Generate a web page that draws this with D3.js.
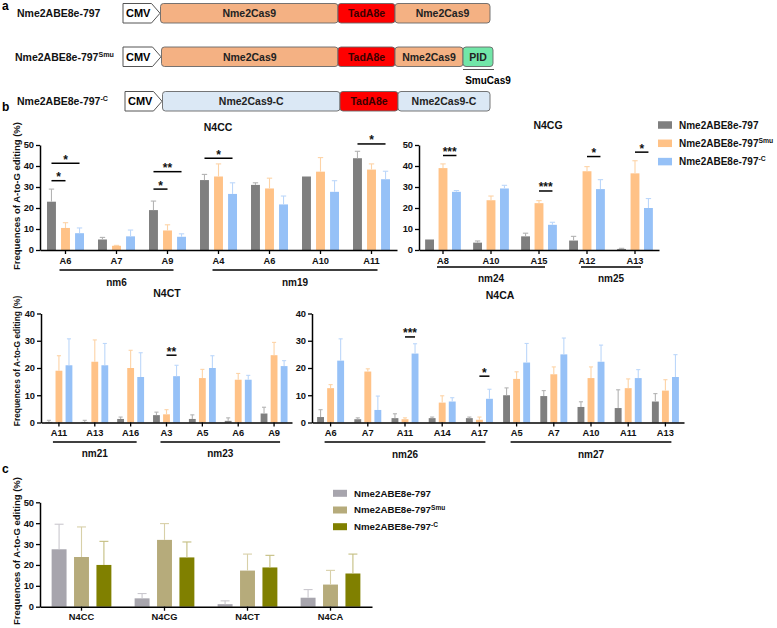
<!DOCTYPE html>
<html><head><meta charset="utf-8">
<script src="https://cdn.jsdelivr.net/npm/d3@7"></script>
<style>
body{margin:0;background:#fff}
svg{display:block}
text{font-family:"Liberation Sans",Arial,Helvetica,sans-serif}
</style>
</head><body><svg id="c" width="777" height="628"></svg>
<script>
// ================= DATA =================
const seriesBase = ["Nme2ABE8e-797", "Nme2ABE8e-797", "Nme2ABE8e-797"];
const seriesSup = ["", "Smu", "-C"];

// panel a: constructs
const constructParts = [
  ["CMV", "Nme2Cas9", "TadA8e", "Nme2Cas9"],
  ["CMV", "Nme2Cas9", "TadA8e", "Nme2Cas9", "PID"],
  ["CMV", "Nme2Cas9-C", "TadA8e", "Nme2Cas9-C"]
];
const constructKinds = [
  ["cmv", "cas", "tad", "cas"],
  ["cmv", "cas", "tad", "cas", "pid"],
  ["cmv", "casC", "tad", "casC"]
];

// panel b: N4CC
const n4ccSites = ["A6", "A7", "A9", "A4", "A6", "A10", "A11"];
const n4cc797 = [23, 5, 19, 33.3, 31, 35, 43.7];
const n4ccSmu = [10.5, 2, 9.3, 35, 29.3, 37.3, 38.3];
const n4ccC = [8, 6.5, 6.3, 26.7, 21.7, 27.7, 33.7];
const n4ccSd797 = [6, 1, 4.3, 2.7, 1, 0, 3.3];
const n4ccSdSmu = [2.5, 0.2, 2.7, 6, 4.9, 6.7, 2.7];
const n4ccSdC = [2.5, 3, 1.4, 5.3, 4, 5.3, 3.8];
const n4ccGroups = [["nm6", 0, 2], ["nm19", 3, 6]];
const n4ccSig = [[0, 0, 1, 33, "*"], [0, 0, 2, 41.3, "*"], [2, 0, 1, 29, "*"], [2, 0, 2, 37.3, "**"], [3, 0, 2, 43.7, "*"], [6, 0, 2, 50.5, "*"]];

// panel b: N4CG
const n4cgSites = ["A8", "A10", "A15", "A12", "A13"];
const n4cg797 = [5, 3.5, 6.5, 4.5, 0.5];
const n4cgSmu = [39, 23.7, 22.3, 37.5, 36.5];
const n4cgC = [27.7, 29.3, 12, 29, 20];
const n4cgSd797 = [0, 0.8, 1.5, 2, 0.3];
const n4cgSdSmu = [2, 2, 1.2, 2.2, 6];
const n4cgSdC = [0.6, 1.5, 1.2, 4.5, 4.5];
const n4cgGroups = [["nm24", 0, 2], ["nm25", 3, 4]];
const n4cgSig = [[0, 1, 2, 45, "***"], [2, 1, 2, 28.1, "***"], [3, 1, 2, 44.5, "*"], [4, 1, 2, 46.6, "*"]];

// panel b: N4CT
const n4ctSites = ["A11", "A13", "A16", "A3", "A5", "A6", "A9"];
const n4ct797 = [0.2, 0.2, 1.3, 2.7, 1.3, 0.6, 3.3];
const n4ctSmu = [19, 22.3, 20, 3, 16.3, 15.7, 24.7];
const n4ctC = [21, 21, 16.7, 17, 20, 15.7, 20.7];
const n4ctSd797 = [0.6, 0.6, 0.7, 1.1, 1.5, 1.1, 2.3];
const n4ctSdSmu = [5.5, 8, 6.5, 1.7, 3.2, 2.3, 4.7];
const n4ctSdC = [9.7, 8, 8.9, 4, 4.5, 1.6, 2];
const n4ctGroups = [["nm21", 0, 2], ["nm23", 3, 6]];
const n4ctSig = [[3, 1, 2, 24.7, "**"]];

// panel b: N4CA
const n4caSites = ["A6", "A7", "A11", "A14", "A17", "A5", "A7", "A10", "A11", "A13"];
const n4ca797 = [2, 1.2, 1.6, 1.6, 1.6, 10, 9.7, 5.7, 5.3, 7.7];
const n4caSmu = [12.6, 18.7, 1.2, 7.3, 1, 16, 17.7, 16.3, 12.6, 11.7];
const n4caC = [22.7, 4.6, 25.3, 7.7, 8.7, 22, 25, 22.3, 16.3, 16.7];
const n4caSd797 = [2.7, 0.5, 1.6, 0.4, 0.4, 2.7, 2, 1.9, 6.7, 2.9];
const n4caSdSmu = [1.3, 1, 0.5, 2.5, 1, 2.6, 2.7, 4.1, 3.4, 4];
const n4caSdC = [8, 5.1, 3.6, 1.4, 3.5, 7, 6, 6.1, 3.1, 8.2];
const n4caGroups = [["nm26", 0, 4], ["nm27", 5, 9]];
const n4caSig = [[2, 1, 2, 31.4, "***"], [4, 1, 2, 17, "*"]];

// panel c: summary
const sumCats = ["N4CC", "N4CG", "N4CT", "N4CA"];
const sum797 = [27.5, 4, 1.2, 4.3];
const sumSmu = [23.8, 32, 17.3, 10.6];
const sumC = [20, 23.6, 18.8, 15.9];
const sumSd797 = [12, 2.3, 1.6, 3.9];
const sumSdSmu = [14.4, 7.8, 7.9, 6.8];
const sumSdC = [11.3, 7.4, 5.8, 9.3];

const yLabel = "Frequences of A-to-G editing (%)";

// ================= DRAW =================
const svg = d3.select("#c");
const FONT = '"Liberation Sans",Arial,sans-serif';

const colB = ["#7f7f7f", "#ffc287", "#96c1f7"];
const errB = ["#b3b3b3", "#fdd3a6", "#bcd7fa"];
const colC = ["#a7a5ad", "#b6ab7b", "#808000"];
const errC = ["#cac8ce", "#d8d0a8", "#c4be80"];

function label(g, x, y, base, sup, size, anchor) {
  const t = g.append("text").attr("x", x).attr("y", y)
    .attr("font-size", size).attr("font-weight", "bold").attr("fill", "#111")
    .attr("text-anchor", anchor || "start");
  t.append("tspan").text(base);
  if (sup) t.append("tspan").attr("dy", -size * 0.38).attr("font-size", size * 0.68).text(sup);
  return t;
}

// ---- panel a ----
svg.append("text").attr("x", 2).attr("y", 10).attr("font-size", 12).attr("font-weight", "bold").text("a");
svg.append("text").attr("x", 2).attr("y", 111).attr("font-size", 12).attr("font-weight", "bold").text("b");
svg.append("text").attr("x", 2).attr("y", 473).attr("font-size", 12).attr("font-weight", "bold").text("c");

const rowLayout = [
  { y: 3.5, h: 19.5, lx: 17, edges: [123, 160.5, 338, 395, 490] },
  { y: 47, h: 19.5, lx: 15, edges: [123, 161.5, 338, 395, 463, 493] },
  { y: 91.5, h: 19.5, lx: 17, edges: [125, 162.5, 340, 398, 490] }
];
const partFill = { cmv: "#ffffff", cas: "#f4b183", tad: "#ff0000", casC: "#dbe8f5", pid: "#72e6a8" };
const partText = { cmv: "#000", cas: "#222", tad: "#3a0000", casC: "#222", pid: "#222" };

constructParts.forEach((parts, r) => {
  const L = rowLayout[r];
  const g = svg.append("g");
  label(g, L.lx, L.y + L.h / 2 + 3.8, seriesBase[r], seriesSup[r], 10.5);
  parts.forEach((p, k) => {
    const kind = constructKinds[r][k];
    const x0 = L.edges[k], x1 = L.edges[k + 1];
    if (kind === "cmv") {
      const tip = x1 - 0.5, sl = x1 - 9;
      g.append("path")
        .attr("d", `M${x0},${L.y}H${sl}L${tip},${L.y + L.h / 2}L${sl},${L.y + L.h}H${x0}Z`)
        .attr("fill", "#fff").attr("stroke", "#555").attr("stroke-width", 1);
      g.append("text").attr("x", x0 + 3).attr("y", L.y + L.h / 2 + 4)
        .attr("font-size", 11).attr("font-weight", "bold").attr("fill", "#000").text(p);
    } else {
      g.append("rect").attr("x", x0).attr("y", L.y).attr("width", x1 - x0).attr("height", L.h)
        .attr("rx", 3).attr("fill", partFill[kind]).attr("stroke", "#666").attr("stroke-width", 0.9);
      g.append("text").attr("x", (x0 + x1) / 2).attr("y", L.y + L.h / 2 + 4)
        .attr("text-anchor", "middle").attr("font-size", 10.5).attr("font-weight", "bold")
        .attr("fill", partText[kind]).text(p);
    }
  });
});
// SmuCas9 annotation
svg.append("line").attr("x1", 463).attr("x2", 494).attr("y1", 69.5).attr("y2", 69.5).attr("stroke", "#555").attr("stroke-width", 1);
svg.append("text").attr("x", 488).attr("y", 84).attr("text-anchor", "middle").attr("font-size", 10).attr("font-weight", "bold").text("SmuCas9");

// ---- generic grouped bar panel ----
function barPanel(o) {
  const g = svg.append("g");
  const n = o.sites.length;
  const xb = d3.scaleBand().domain(d3.range(n)).range([o.x0, o.x1]);
  const y = d3.scaleLinear().domain([0, o.yMax]).range([o.yBottom, o.yTop]);
  const bw = xb.bandwidth();
  const pitch = bw * o.pitchF, barW = bw * o.widthF;
  const cx = i => xb(i) + bw / 2;
  const bx = (i, s) => cx(i) + (s - 1) * pitch;

  o.series.forEach((vals, s) => {
    g.selectAll(null).data(vals).enter().append("rect")
      .attr("x", (d, i) => bx(i, s) - barW / 2)
      .attr("y", d => y(d))
      .attr("width", barW)
      .attr("height", d => y(0) - y(d))
      .attr("fill", o.colors[s]);
  });
  o.series.forEach((vals, s) => {
    const sds = o.sds[s];
    const cap = barW * 0.6;
    vals.forEach((v, i) => {
      if (sds[i] <= 0) return;
      const xc = bx(i, s);
      g.append("line").attr("x1", xc).attr("x2", xc).attr("y1", y(v)).attr("y2", y(v + sds[i]))
        .attr("stroke", o.errColors[s]).attr("stroke-width", 1.1);
      g.append("line").attr("x1", xc - cap / 2).attr("x2", xc + cap / 2).attr("y1", y(v + sds[i])).attr("y2", y(v + sds[i]))
        .attr("stroke", o.errColors[s]).attr("stroke-width", 1.1);
    });
  });

  const ya = g.append("g").attr("transform", `translate(${o.x0},0)`)
    .call(d3.axisLeft(y).ticks(o.yMax / 10).tickSize(4).tickSizeOuter(0).tickPadding(2));
  const xa = g.append("g").attr("transform", `translate(0,${o.yBottom})`)
    .call(d3.axisBottom(xb).tickFormat(i => o.sites[i]).tickSize(4).tickSizeOuter(0).tickPadding(3));
  [ya, xa].forEach(a => {
    a.select(".domain").attr("stroke", "#000").attr("stroke-width", 1.5);
    a.selectAll(".tick line").attr("stroke", "#000").attr("stroke-width", 1.3);
    a.selectAll("text").attr("font-family", FONT).attr("font-weight", "bold")
      .attr("font-size", 9.3).attr("fill", "#111");
  });
  xa.selectAll(".tick text").attr("dy", "0.71em").attr("y", 7);

  if (o.title) g.append("text").attr("x", o.titleX).attr("y", o.titleY).attr("text-anchor", "middle")
    .attr("font-size", 10.5).attr("font-weight", "bold").attr("fill", "#111").text(o.title);

  (o.groups || []).forEach(([name, a, b]) => {
    g.append("line").attr("x1", cx(a) - 6).attr("x2", cx(b) + 6)
      .attr("y1", o.lineY).attr("y2", o.lineY).attr("stroke", "#000").attr("stroke-width", 1.5);
    g.append("text").attr("x", (cx(a) + cx(b)) / 2).attr("y", o.groupY)
      .attr("text-anchor", "middle").attr("font-size", 10).attr("font-weight", "bold").attr("fill", "#111").text(name);
  });

  (o.sig || []).forEach(([i, s1, s2, yv, lab]) => {
    const x1 = bx(i, s1), x2 = bx(i, s2), yy = y(yv);
    g.append("line").attr("x1", x1).attr("x2", x2).attr("y1", yy).attr("y2", yy)
      .attr("stroke", "#000").attr("stroke-width", 1.5);
    g.append("text").attr("x", (x1 + x2) / 2).attr("y", yy + 0.5).attr("text-anchor", "middle")
      .attr("font-size", 12).attr("font-weight", "bold").attr("fill", "#111").text(lab);
  });

  if (o.yLab) g.append("text")
    .attr("transform", `translate(${o.yLabX},${o.yLabY}) rotate(-90)`)
    .attr("text-anchor", "middle").attr("font-size", o.yLabSize).attr("font-weight", "bold").attr("fill", "#111")
    .text(yLabel);

  return { xb, y };
}

barPanel({
  sites: n4ccSites, series: [n4cc797, n4ccSmu, n4ccC], sds: [n4ccSd797, n4ccSdSmu, n4ccSdC],
  groups: n4ccGroups, sig: n4ccSig, colors: colB, errColors: errB,
  x0: 40, x1: 397, yTop: 145, yBottom: 250, yMax: 50, pitchF: 0.275, widthF: 0.175,
  title: "N4CC", titleX: 218, titleY: 131, lineY: 270, groupY: 286,
  yLab: true, yLabX: 20, yLabY: 196, yLabSize: 9.5
});
barPanel({
  sites: n4cgSites, series: [n4cg797, n4cgSmu, n4cgC], sds: [n4cgSd797, n4cgSdSmu, n4cgSdC],
  groups: n4cgGroups, sig: n4cgSig, colors: colB, errColors: errB,
  x0: 419, x1: 659, yTop: 145, yBottom: 250, yMax: 50, pitchF: 0.28, widthF: 0.185,
  title: "N4CG", titleX: 548, titleY: 129, lineY: 267, groupY: 282
});
barPanel({
  sites: n4ctSites, series: [n4ct797, n4ctSmu, n4ctC], sds: [n4ctSd797, n4ctSdSmu, n4ctSdC],
  groups: n4ctGroups, sig: n4ctSig, colors: colB, errColors: errB,
  x0: 41, x1: 292, yTop: 313.5, yBottom: 422.5, yMax: 40, pitchF: 0.28, widthF: 0.19,
  title: "N4CT", titleX: 167, titleY: 297, lineY: 442, groupY: 457,
  yLab: true, yLabX: 20, yLabY: 361, yLabSize: 8.4
});
barPanel({
  sites: n4caSites, series: [n4ca797, n4caSmu, n4caC], sds: [n4caSd797, n4caSdSmu, n4caSdC],
  groups: n4caGroups, sig: n4caSig, colors: colB, errColors: errB,
  x0: 312, x1: 684, yTop: 313.5, yBottom: 422.5, yMax: 40, pitchF: 0.27, widthF: 0.185,
  title: "N4CA", titleX: 500, titleY: 299, lineY: 442, groupY: 458
});
barPanel({
  sites: sumCats, series: [sum797, sumSmu, sumC], sds: [sumSd797, sumSdSmu, sumSdC],
  colors: colC, errColors: errC,
  x0: 40, x1: 372, yTop: 502.3, yBottom: 606.7, yMax: 50, pitchF: 0.27, widthF: 0.18,
  yLab: true, yLabX: 20, yLabY: 551, yLabSize: 9.5
});

function legend(x, y0, dy, colors, w, h, size) {
  const g = svg.append("g");
  seriesBase.forEach((b, i) => {
    const yy = y0 + i * dy;
    g.append("rect").attr("x", x).attr("y", yy - h / 2).attr("width", w).attr("height", h).attr("fill", colors[i]);
    label(g, x + w + 7, yy + size * 0.36, b, seriesSup[i], size);
  });
}
legend(658, 125, 18.3, colB, 14, 7.5, 10);
legend(333, 493.3, 16.7, colC, 14, 7, 9.7);
</script>
</body></html>
